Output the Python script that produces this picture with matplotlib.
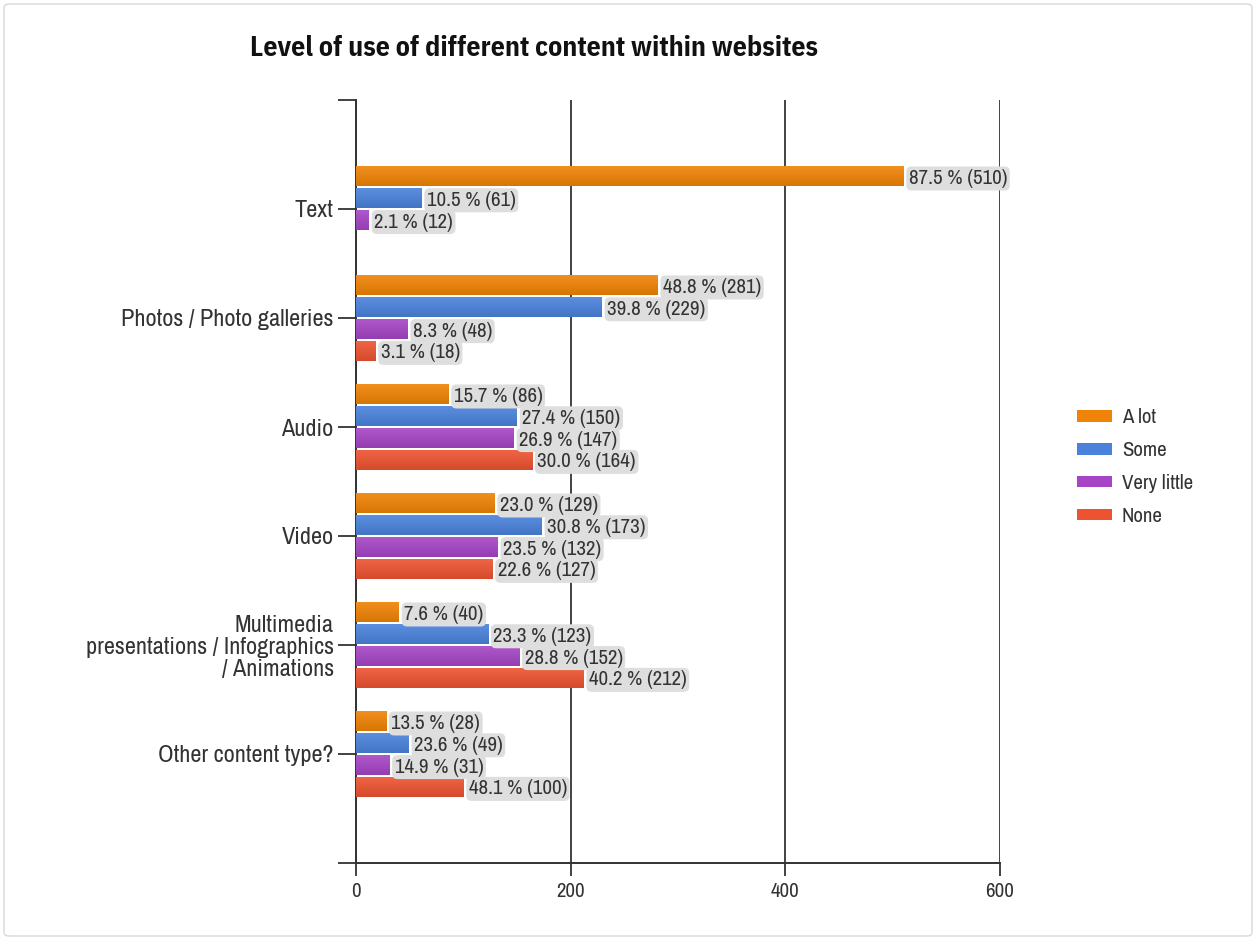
import numpy as np
import matplotlib
matplotlib.use("Agg")
import matplotlib.pyplot as plt
from matplotlib.patches import Patch, FancyBboxPatch
from matplotlib.colors import to_rgb

NARROW = ['Liberation Sans Narrow', 'Arial Narrow', 'Archivo Narrow',
          'Roboto Condensed', 'Liberation Sans', 'DejaVu Sans']
TITLE_FONT = ['IBM Plex Sans Condensed', 'Open Sans Condensed',
              'Liberation Sans', 'DejaVu Sans']
plt.rcParams['font.family'] = NARROW

# --- data -------------------------------------------------------------
categories = [
    "Text",
    "Photos / Photo galleries",
    "Audio",
    "Video",
    "Multimedia\npresentations / Infographics\n/ Animations",
    "Other content type?",
]
series_names = ["A lot", "Some", "Very little", "None"]
series_colors = ["#F08305", "#4A82DB", "#A545C6", "#EC5330"]

counts_a_lot = [510, 281, 86, 129, 40, 28]
counts_some = [61, 229, 150, 173, 123, 49]
counts_very_little = [12, 48, 147, 132, 152, 31]
counts_none = [0, 18, 164, 127, 212, 100]

pct_a_lot = [87.5, 48.8, 15.7, 23.0, 7.6, 13.5]
pct_some = [10.5, 39.8, 27.4, 30.8, 23.3, 23.6]
pct_very_little = [2.1, 8.3, 26.9, 23.5, 28.8, 14.9]
pct_none = [0.0, 3.1, 30.0, 22.6, 40.2, 48.1]

x_ticks = [0, 200, 400, 600]

counts = [counts_a_lot, counts_some, counts_very_little, counts_none]
pcts = [pct_a_lot, pct_some, pct_very_little, pct_none]

# --- figure -----------------------------------------------------------
W, H = 1256, 940
fig = plt.figure(figsize=(W / 100, H / 100), dpi=100)
fig.patch.set_facecolor("white")

# thin outer frame
fig.patches.append(FancyBboxPatch((4 / W, 4 / H), 1 - 8 / W, 1 - 8 / H,
                                  boxstyle="round,pad=0,rounding_size=0.004",
                                  transform=fig.transFigure, fc="none",
                                  ec="#d8d8d8", lw=1.0))

ax = fig.add_axes([356 / W, 1 - 863 / H, (1000 - 356) / W, (863 - 100) / H])

n_cat = len(categories)
y_pos = np.arange(1, n_cat + 1)
slot = 0.2
bar_h = 0.18


def shade(color, f):
    r, g, b = to_rgb(color)
    if f >= 0:
        return tuple(c + (1 - c) * f for c in (r, g, b))
    return tuple(c * (1 + f) for c in (r, g, b))


for j, (vals, ps, col) in enumerate(zip(counts, pcts, series_colors)):
    ys = y_pos + (j - 1.5) * slot
    bars = ax.barh(ys, vals, height=bar_h, color=col, edgecolor="none", zorder=2)
    # vertical gradient inside each bar
    top, bot = shade(col, 0.10), shade(col, -0.10)
    grad = np.linspace(0, 1, 32)[:, None, None]
    img = (1 - grad) * np.array(top) + grad * np.array(bot)
    for rect, v, p, y in zip(bars, vals, ps, ys):
        if v <= 0:
            continue
        x0, yb = rect.get_x(), rect.get_y()
        w, h = rect.get_width(), rect.get_height()
        im = ax.imshow(img, extent=[x0, x0 + w, yb + h, yb], aspect="auto",
                       interpolation="bilinear", zorder=3)
        im.set_clip_path(rect)
        ax.text(v + 5, y + 0.02, f"{p:.1f} % ({v})", va="center", ha="left",
                fontsize=15, color="#333333", zorder=5,
                bbox=dict(boxstyle="round,pad=0.12,rounding_size=0.25",
                          fc="#dedede", ec="none"))

ax.set_xlim(0, 600)
ax.set_ylim(n_cat + 1, 0)
ax.set_xticks(x_ticks)
ax.set_xticklabels([str(t) for t in x_ticks], fontsize=15, color="#333333")
ax.set_yticks(np.arange(0, n_cat + 2))
ax.set_yticklabels([""] + categories + [""], fontsize=17.5, color="#333333",
                   linespacing=1.04)
ax.tick_params(axis="y", length=13, width=1.3, color="#333333", pad=3)
ax.tick_params(axis="x", length=9, width=1.3, color="#333333", pad=5)

ax.grid(axis="x", color="#222222", linewidth=1.2, zorder=1)
ax.set_axisbelow(True)
for side in ("top", "right"):
    ax.spines[side].set_visible(False)
for side in ("left", "bottom"):
    ax.spines[side].set_color("#333333")
    ax.spines[side].set_linewidth(1.4)

fig.text(250 / W, 1 - 48 / H, "Level of use of different content within websites",
         fontsize=20, fontweight="bold", family=TITLE_FONT, color="#111111",
         va="center", ha="left")

handles = [Patch(facecolor=c, edgecolor="none") for c in series_colors]
fig.legend(handles, series_names, loc="upper left",
           bbox_to_anchor=(1077 / W, 1 - 408 / H), frameon=False,
           fontsize=15, labelcolor="#333333", handlelength=1.7,
           handleheight=0.5, handletextpad=0.45, labelspacing=0.67,
           borderpad=0, borderaxespad=0)

fig.savefig("out.png", dpi=100)
